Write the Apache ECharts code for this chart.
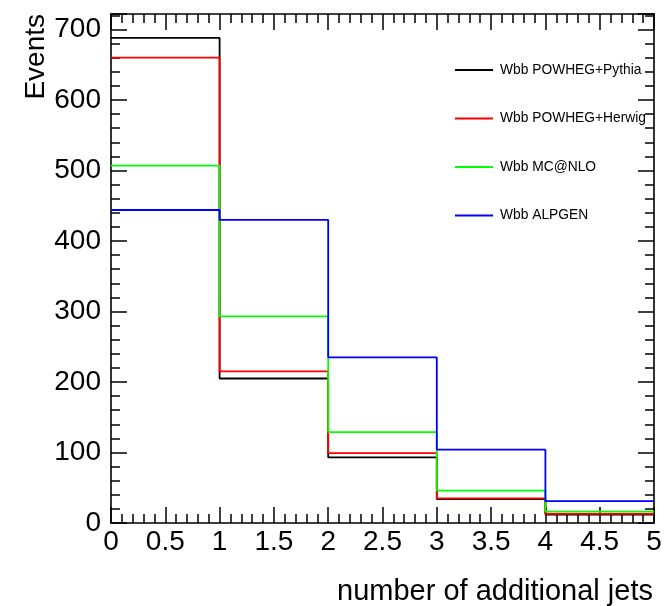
<!DOCTYPE html>
<html>
<head>
<meta charset="utf-8">
<script src="https://cdn.jsdelivr.net/npm/echarts@6/dist/echarts.min.js"></script>
<style>
  html, body { margin: 0; padding: 0; background: #fff; }
  #chart { width: 666px; height: 606px; }
</style>
</head>
<body>
<div id="chart"></div>
<script>
// Bin edges for the number of additional jets
const binEdges = [0, 1, 2, 3, 4, 5];

// Event counts per bin for each generator
const powhegPythia = [688, 205, 93, 34, 12];
const powhegHerwig = [660, 215, 99, 35, 13];
const mcAtNlo      = [507, 293, 129, 46, 16];
const alpgen       = [444, 430, 235, 104, 31];

const seriesNames = ['Wbb POWHEG+Pythia', 'Wbb POWHEG+Herwig', 'Wbb MC@NLO', 'Wbb ALPGEN'];
const seriesColors = ['#000000', '#ff0000', '#00ff00', '#0000ff'];
const seriesValues = [powhegPythia, powhegHerwig, mcAtNlo, alpgen];

const yMax = 722;
const FONT = 'Liberation Sans, Arial, Helvetica, sans-serif';

// Histogram outline: one point per lower bin edge, plus the upper edge of the last bin
function histPoints(values) {
  const pts = values.map((v, i) => [binEdges[i], v]);
  pts.push([binEdges[binEdges.length - 1], values[values.length - 1]]);
  return pts;
}

const chart = echarts.init(document.getElementById('chart'), null, { renderer: 'canvas' });

const frameLine = { show: true, onZero: false, lineStyle: { color: '#000', width: 1.6 } };

const xCommon = {
  type: 'value', min: 0, max: 5, interval: 0.5,
  axisLine: frameLine,
  splitLine: { show: false },
  axisTick: { show: true, inside: true, length: 16, lineStyle: { color: '#000', width: 1.5 } },
  minorTick: { show: true, splitNumber: 5, length: 9, lineStyle: { color: '#000', width: 1.5 } },
  minorSplitLine: { show: false }
};
const yCommon = {
  type: 'value', min: 0, max: yMax, interval: 100,
  axisLine: frameLine,
  splitLine: { show: false },
  axisTick: { show: true, inside: true, length: 16, lineStyle: { color: '#000', width: 1.5 } },
  minorTick: { show: true, splitNumber: 5, length: 9, lineStyle: { color: '#000', width: 1.5 } },
  minorSplitLine: { show: false }
};

const option = {
  animation: false,
  backgroundColor: '#ffffff',
  grid: { left: 111, right: 12, top: 14, bottom: 83, containLabel: false },
  xAxis: [
    Object.assign({}, xCommon, {
      position: 'bottom',
      axisLabel: { show: true, color: '#000', fontFamily: FONT, fontSize: 28, margin: 5,
        formatter: v => String(v) }
    }),
    Object.assign({}, xCommon, { position: 'top', axisLabel: { show: false } })
  ],
  yAxis: [
    Object.assign({}, yCommon, {
      position: 'left',
      axisLabel: { show: true, color: '#000', fontFamily: FONT, fontSize: 28, margin: 10,
        formatter: v => (v % 100 === 0 ? String(v) : '') }
    }),
    Object.assign({}, yCommon, { position: 'right', axisLabel: { show: false } })
  ],
  legend: {
    orient: 'vertical',
    left: 455, top: 62, padding: 0,
    itemWidth: 38, itemHeight: 2, itemGap: 32.5,
    icon: 'rect',
    textStyle: { color: '#000', fontFamily: FONT, fontSize: 13.8, lineHeight: 16, padding: [0, 0, 0, 2] },
    data: seriesNames.map((n, i) => ({
      name: n,
      itemStyle: { color: seriesColors[i] }
    }))
  },
  graphic: [
    {
      type: 'text', x: 36, y: 14, rotation: Math.PI / 2,
      style: { text: 'Events', fill: '#000', font: '28px ' + FONT, align: 'right', verticalAlign: 'middle' }
    },
    {
      type: 'text', x: 653, y: 592,
      style: { text: 'number of additional jets', fill: '#000', font: '29px ' + FONT, align: 'right', verticalAlign: 'middle' }
    }
  ],
  series: seriesNames.map((name, i) => ({
    name: name,
    type: 'line',
    step: 'end',
    xAxisIndex: 0, yAxisIndex: 0,
    symbol: 'none',
    lineStyle: { color: seriesColors[i], width: 1.8 },
    itemStyle: { color: seriesColors[i] },
    data: histPoints(seriesValues[i])
  }))
};

chart.setOption(option);
</script>
</body>
</html>
